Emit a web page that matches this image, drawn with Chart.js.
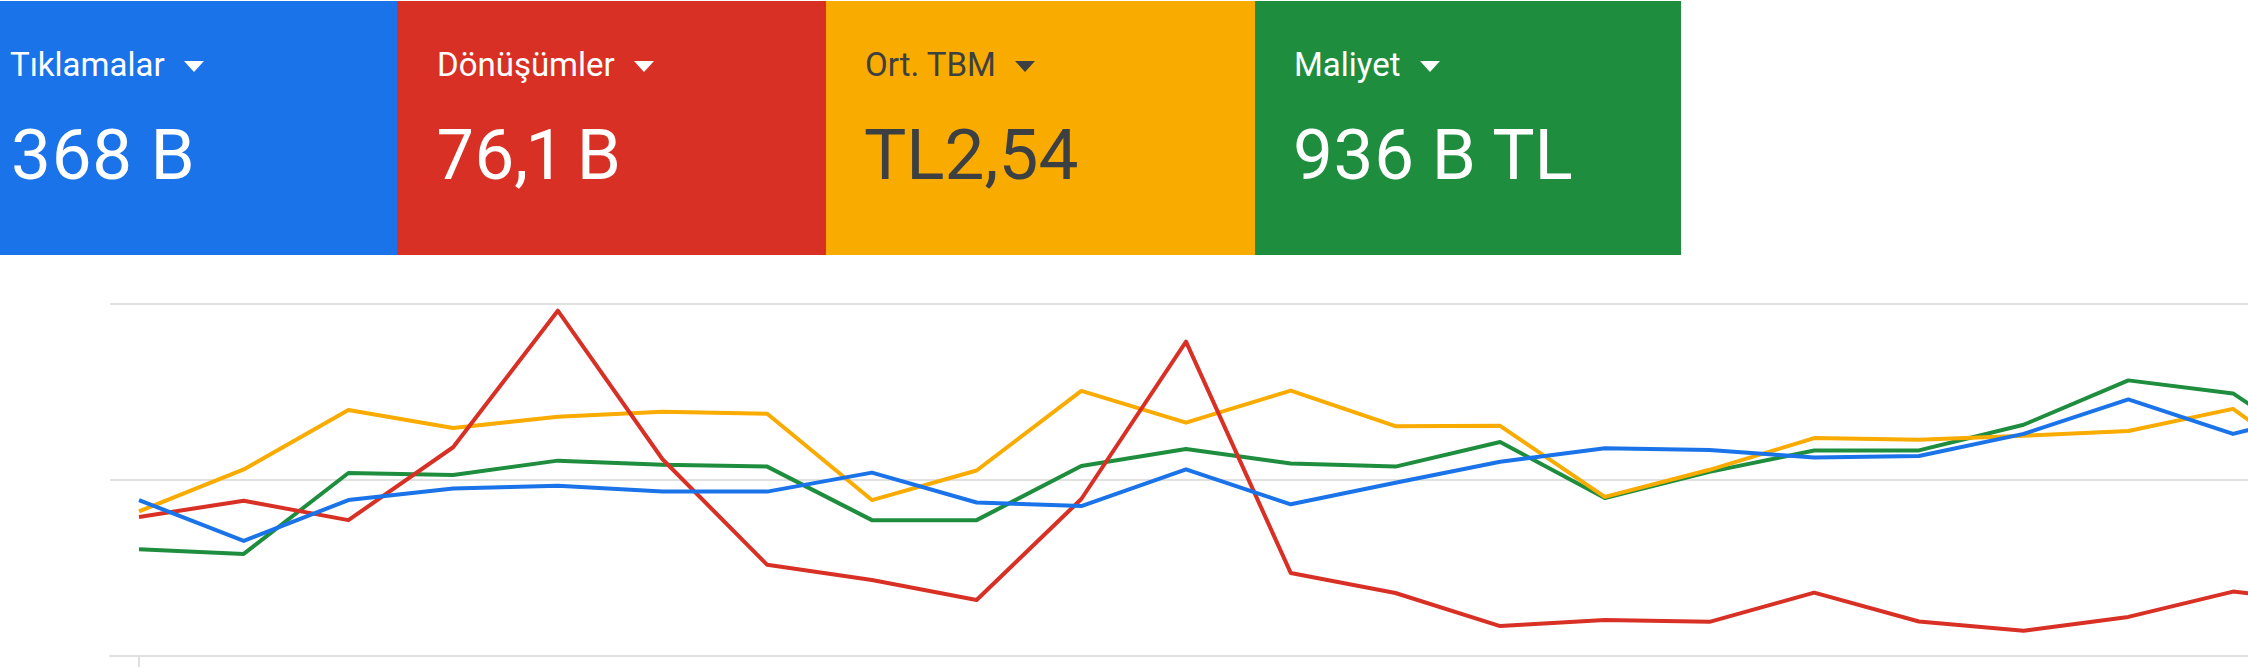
<!DOCTYPE html>
<html>
<head>
<meta charset="utf-8">
<script src="https://cdn.jsdelivr.net/npm/chart.js@4.4.1/dist/chart.umd.min.js"></script>
<style>
html,body{margin:0;padding:0;background:#fff;width:2248px;height:667px;overflow:hidden;font-family:Roboto,"Noto Sans",sans-serif;}
.card{position:absolute;top:1px;height:254px;}
.lbl{position:absolute;font-size:33px;line-height:33px;top:47px;white-space:nowrap;}
.arrow{display:inline-block;width:0;height:0;border-left:10px solid transparent;border-right:10px solid transparent;border-top:11px solid currentColor;margin-left:19px;vertical-align:4px;}
.val{position:absolute;font-size:71px;line-height:71px;top:118px;white-space:nowrap;font-variant-numeric:proportional-nums;}
#wrap{position:absolute;left:0;top:290px;width:2248px;height:377px;}
</style>
</head>
<body>
<div class="card" style="left:0;width:397px;background:#1a73e8;color:#fff;">
  <div class="lbl" style="left:10px;">Tıklamalar<span class="arrow"></span></div>
  <div class="val" style="left:11px;">368 B</div>
</div>
<div class="card" style="left:397px;width:429px;background:#d93025;color:#fff;">
  <div class="lbl" style="left:40px;">Dönüşümler<span class="arrow"></span></div>
  <div class="val" style="left:40px;">76,1 B</div>
</div>
<div class="card" style="left:826px;width:429px;background:#f9ab00;color:#3c4043;">
  <div class="lbl" style="left:39px;">Ort. TBM<span class="arrow"></span></div>
  <div class="val" style="left:38px;">TL2,54</div>
</div>
<div class="card" style="left:1255px;width:426px;background:#1e8e3e;color:#fff;">
  <div class="lbl" style="left:39px;">Maliyet<span class="arrow"></span></div>
  <div class="val" style="left:38px;">936 B TL</div>
</div>
<div id="wrap"><canvas id="c" width="2248" height="377"></canvas></div>
<script>
// Day index of each point (dates are not visible in the reference)
const days = [1,2,3,4,5,6,7,8,9,10,11,12,13,14,15,16,17,18,19,20,21,22];
// Relative values (0-100 on the chart's shared scale)
const tiklamalar = [44.3,32.7,44.3,47.6,48.4,46.7,46.7,52.1,43.6,42.6,53.0,43.1,49.2,55.2,59.0,58.5,56.4,56.8,63.1,72.9,63.1,70.7];
const donusumler = [39.5,44.1,38.6,59.3,98.1,55.9,25.9,21.6,15.9,44.6,89.3,23.6,17.9,8.5,10.2,9.7,18.0,9.8,7.2,11.1,18.3,14.8];
const ortTbm     = [41.1,53.0,69.9,64.8,68.0,69.4,68.8,44.3,52.7,75.3,66.3,75.4,65.3,65.4,45.2,52.9,61.9,61.4,62.6,63.9,70.2,48.9];
const maliyet    = [30.3,29.0,52.0,51.4,55.5,54.3,53.8,38.6,38.6,54.0,58.8,54.7,53.8,60.8,44.9,52.3,58.4,58.4,65.7,78.3,74.6,54.8];
const yTicks = [0,50,100];

const series = [
  {label:'Tıklamalar', values:tiklamalar, color:'#1a73e8'},
  {label:'Dönüşümler', values:donusumler, color:'#d93025'},
  {label:'Ort. TBM', values:ortTbm, color:'#f9ab00'},
  {label:'Maliyet', values:maliyet, color:'#1e8e3e'}
];

new Chart(document.getElementById('c'), {
  type:'line',
  data:{
    datasets: series.map(s => ({
      label:s.label,
      data:s.values.map((v,i) => ({x:days[i]-1, y:v})),
      borderColor:s.color,
      backgroundColor:s.color,
      borderWidth:4,
      pointRadius:0,
      tension:0,
      fill:false,
      borderJoinStyle:'round'
    }))
  },
  options:{
    responsive:false,
    maintainAspectRatio:false,
    animation:false,
    devicePixelRatio:1,
    events:[],
    layout:{padding:{top:14,left:110,right:0,bottom:0}},
    plugins:{legend:{display:false},tooltip:{enabled:false}},
    scales:{
      x:{
        type:'linear',
        min:-0.277,
        max:20.143,
        ticks:{display:false},
        grid:{drawOnChartArea:false,drawTicks:true,tickLength:11,color:'#e0e0e0',lineWidth:2},
        border:{display:true,color:'#e0e0e0',width:2},
        afterBuildTicks: s => { s.ticks = [{value:0}]; }
      },
      y:{
        min:yTicks[0],
        max:yTicks[yTicks.length-1],
        ticks:{display:false,stepSize:yTicks[1]-yTicks[0]},
        grid:{color:'#e0e0e0',lineWidth:2,drawTicks:false},
        border:{display:false}
      }
    }
  }
});
</script>
</body>
</html>
